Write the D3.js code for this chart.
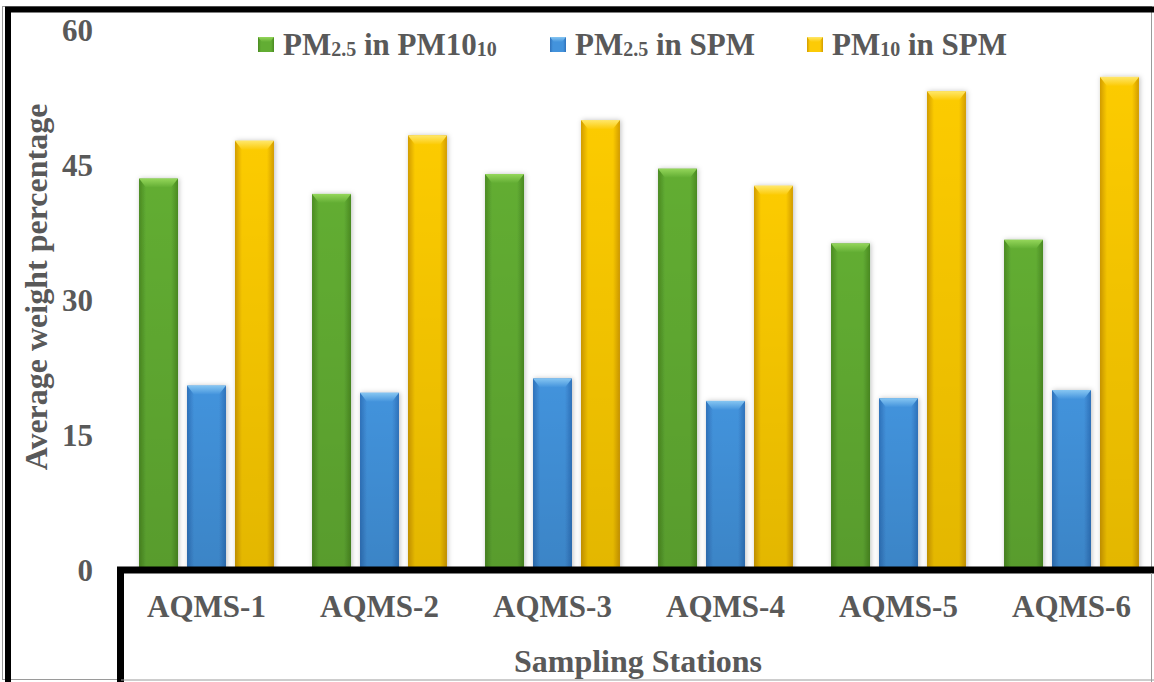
<!DOCTYPE html>
<html>
<head>
<meta charset="utf-8">
<script src="https://cdn.jsdelivr.net/npm/d3@7"></script>
<style>
  html, body { margin: 0; padding: 0; background: #fff; }
  svg { display: block; }
</style>
</head>
<body>
<svg id="chart" width="1154" height="682"></svg>
<script>
// data
var stations = ['AQMS-1', 'AQMS-2', 'AQMS-3', 'AQMS-4', 'AQMS-5', 'AQMS-6'];
var seriesKeys = ['pm25InPm10', 'pm25InSpm', 'pm10InSpm'];
var pm25InPm10 = [43.6, 41.9, 44.1, 44.7, 36.4, 36.8];
var pm25InSpm = [20.6, 19.8, 21.4, 18.9, 19.2, 20.1];
var pm10InSpm = [47.8, 48.4, 50.1, 42.8, 53.3, 54.9];
var yTicks = [0, 15, 30, 45, 60];

var seriesValues = {pm25InPm10: pm25InPm10, pm25InSpm: pm25InSpm, pm10InSpm: pm10InSpm};

var FONT = 'Liberation Serif';
var TEXT_COLOR = '#595959';

// colours: [edge, middle, bevel]
var palette = {
    pm25InPm10: ['#4a8a22', '#62ad33', '#94d65a'],
    pm25InSpm: ['#2f72bb', '#4393dc', '#86c6f2'],
    pm10InSpm: ['#d29c00', '#fccb06', '#ffe76a']
};

var svg = d3.select('#chart')
    .attr('font-family', FONT)
    .attr('font-weight', 'bold');
var defs = svg.append('defs');

seriesKeys.forEach(function(k) {
    var c = palette[k];
    var g = defs.append('linearGradient')
        .attr('id', 'grad-' + k)
        .attr('x1', 0).attr('x2', 1).attr('y1', 0).attr('y2', 0);
    g.append('stop').attr('offset', '0%').attr('stop-color', c[0]);
    g.append('stop').attr('offset', '18%').attr('stop-color', c[1]);
    g.append('stop').attr('offset', '82%').attr('stop-color', c[1]);
    g.append('stop').attr('offset', '100%').attr('stop-color', c[0]);

    var b = defs.append('linearGradient')
        .attr('id', 'bevel-' + k)
        .attr('x1', 0).attr('x2', 0).attr('y1', 0).attr('y2', 1);
    b.append('stop').attr('offset', '0%').attr('stop-color', c[2]);
    b.append('stop').attr('offset', '100%').attr('stop-color', c[1]);
});

// darker towards the bottom of each bar
var shade = defs.append('linearGradient')
    .attr('id', 'shade')
    .attr('x1', 0).attr('x2', 0).attr('y1', 0).attr('y2', 1);
shade.append('stop').attr('offset', '0%').attr('stop-color', '#000').attr('stop-opacity', 0);
shade.append('stop').attr('offset', '100%').attr('stop-color', '#000').attr('stop-opacity', 0.1);

var shadow = defs.append('filter').attr('id', 'shadow')
    .attr('x', '-30%').attr('y', '-10%').attr('width', '160%').attr('height', '120%');
shadow.append('feDropShadow')
    .attr('dx', 1).attr('dy', 0).attr('stdDeviation', 2.5)
    .attr('flood-color', '#000').attr('flood-opacity', 0.25);

// outer frame
svg.append('rect')
    .attr('x', 2.5).attr('y', 6.5).attr('width', 1149).attr('height', 673)
    .attr('fill', '#fff').attr('stroke', '#9a9a9a').attr('stroke-width', 1);
svg.append('line').attr('x1', 5).attr('x2', 1154).attr('y1', 9.5).attr('y2', 9.5)
    .attr('stroke', '#000').attr('stroke-width', 6);
svg.append('line').attr('x1', 8).attr('x2', 8).attr('y1', 7).attr('y2', 682)
    .attr('stroke', '#000').attr('stroke-width', 6);

var y = d3.scaleLinear().domain([0, 60]).range([571, 31]);
var x0 = d3.scaleBand().domain(stations).range([120, 1158]).paddingInner(0.22).paddingOuter(0.11);
var x1 = d3.scaleBand().domain(seriesKeys).range([0, x0.bandwidth()]).paddingInner(0.1875);

// y axis: labels only
var yAxis = svg.append('g')
    .attr('transform', 'translate(93,0)')
    .call(d3.axisLeft(y).tickValues(yTicks).tickSize(0).tickPadding(0));
yAxis.attr('font-family', FONT).attr('font-size', 31);
yAxis.select('.domain').remove();
yAxis.selectAll('text')
    .attr('font-family', FONT)
    .attr('font-weight', 'bold')
    .attr('font-size', 31)
    .attr('fill', TEXT_COLOR);

// bars
var groups = svg.append('g').selectAll('g.station')
    .data(stations)
    .enter().append('g')
    .attr('class', 'station')
    .attr('transform', function(d) { return 'translate(' + x0(d) + ',0)'; });

groups.each(function(station, i) {
    var g = d3.select(this);
    seriesKeys.forEach(function(k) {
        var v = seriesValues[k][i];
        var bx = x1(k);
        var bw = x1.bandwidth();
        var top = y(v);
        var bottom = y(0);
        var bar = g.append('g').attr('class', 'bar');
        bar.append('rect')
            .attr('x', bx).attr('y', top)
            .attr('width', bw).attr('height', bottom - top)
            .attr('fill', 'url(#grad-' + k + ')')
            .attr('filter', 'url(#shadow)');
        bar.append('rect')
            .attr('x', bx).attr('y', top)
            .attr('width', bw).attr('height', bottom - top)
            .attr('fill', 'url(#shade)');
        // top bevel
        var bevel = 7;
        bar.append('path')
            .attr('d', 'M' + bx + ',' + top +
                'L' + (bx + bw) + ',' + top +
                'L' + (bx + bw - bevel) + ',' + (top + bevel + 2) +
                'L' + (bx + bevel) + ',' + (top + bevel + 2) + 'Z')
            .attr('fill', 'url(#bevel-' + k + ')');
    });
});

// x axis box
svg.append('rect')
    .attr('x', 121).attr('y', 570).attr('width', 1033).attr('height', 112)
    .attr('fill', '#fff');
svg.append('line').attr('x1', 117).attr('x2', 1154).attr('y1', 570).attr('y2', 570)
    .attr('stroke', '#000').attr('stroke-width', 7);
svg.append('line').attr('x1', 120.5).attr('x2', 120.5).attr('y1', 567).attr('y2', 682)
    .attr('stroke', '#000').attr('stroke-width', 7);
svg.append('line').attr('x1', 121).attr('x2', 1154).attr('y1', 680).attr('y2', 680)
    .attr('stroke', '#9a9a9a').attr('stroke-width', 1);
svg.append('line').attr('x1', 1151.5).attr('x2', 1151.5).attr('y1', 573).attr('y2', 682)
    .attr('stroke', '#9a9a9a').attr('stroke-width', 1);

svg.append('g').selectAll('text')
    .data(stations)
    .enter().append('text')
    .attr('x', function(d) { return x0(d) + x0.bandwidth() / 2; })
    .attr('y', 617)
    .attr('text-anchor', 'middle')
    .attr('font-family', FONT)
    .attr('font-weight', 'bold')
    .attr('font-size', 31)
    .attr('fill', TEXT_COLOR)
    .text(function(d) { return d; });

// axis titles
svg.append('text')
    .attr('x', 638).attr('y', 672)
    .attr('text-anchor', 'middle')
    .attr('font-family', FONT)
    .attr('font-weight', 'bold')
    .attr('font-size', 32)
    .attr('fill', TEXT_COLOR)
    .text('Sampling Stations');

svg.append('text')
    .attr('transform', 'translate(47,287) rotate(-90)')
    .attr('text-anchor', 'middle')
    .attr('font-family', FONT)
    .attr('font-weight', 'bold')
    .attr('font-size', 32)
    .attr('fill', TEXT_COLOR)
    .text('Average weight percentage');

// legend
var legendItems = [
    {key: 'pm25InPm10', x: 258, parts: [['PM', 0], ['2.5', 1], [' in PM10', 0], ['10', 1]]},
    {key: 'pm25InSpm', x: 550, parts: [['PM', 0], ['2.5', 1], [' in SPM', 0]]},
    {key: 'pm10InSpm', x: 807, parts: [['PM', 0], ['10', 1], [' in SPM', 0]]}
];

var legend = svg.append('g').attr('class', 'legend');
legendItems.forEach(function(item) {
    legend.append('rect')
        .attr('x', item.x).attr('y', 37).attr('width', 16).attr('height', 15)
        .attr('fill', 'url(#grad-' + item.key + ')');
    legend.append('path')
        .attr('d', 'M' + item.x + ',37L' + (item.x + 16) + ',37L' + (item.x + 12) + ',42L' + (item.x + 4) + ',42Z')
        .attr('fill', 'url(#bevel-' + item.key + ')');
    var t = legend.append('text')
        .attr('x', item.x + 25).attr('y', 55)
        .attr('font-family', FONT)
        .attr('font-weight', 'bold')
        .attr('font-size', 31)
        .attr('fill', TEXT_COLOR);
    var prevSub = false;
    item.parts.forEach(function(p) {
        var span = t.append('tspan').text(p[0]);
        if(p[1]) {
            span.attr('font-size', 20).attr('dy', 1);
        } else if(prevSub) {
            span.attr('dy', -1);
        }
        prevSub = !!p[1];
    });
});
</script>
</body>
</html>
